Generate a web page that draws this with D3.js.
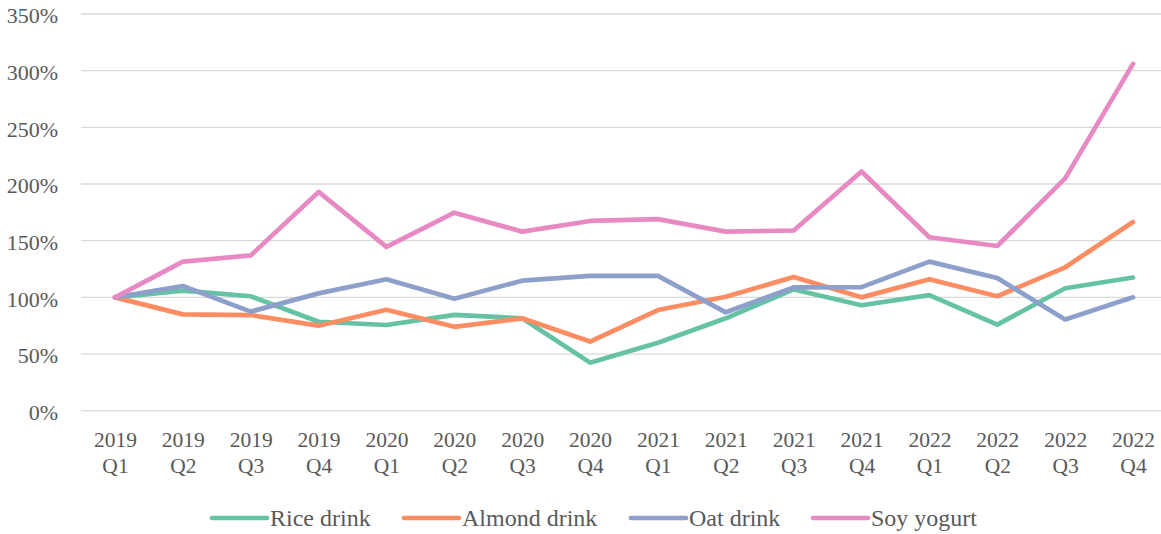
<!DOCTYPE html>
<html>
<head>
<meta charset="utf-8">
<script src="https://cdn.jsdelivr.net/npm/d3@7"></script>
<style>
  html, body { margin: 0; padding: 0; background: #fff; }
  svg { display: block; font-family: "Liberation Serif", "Times New Roman", serif; }
</style>
</head>
<body>
<svg id="chart" width="1161" height="534"></svg>
<script>
// Quarterly index (2019 Q1 = 100%)
const years = ["2019","2019","2019","2019","2020","2020","2020","2020","2021","2021","2021","2021","2022","2022","2022","2022"];
const quarters = ["Q1","Q2","Q3","Q4","Q1","Q2","Q3","Q4","Q1","Q2","Q3","Q4","Q1","Q2","Q3","Q4"];
const seriesNames = ["Rice drink", "Almond drink", "Oat drink", "Soy yogurt"];
const riceDrink   = [100, 106, 101, 78.5, 75.6, 84.5, 81.5, 42.4, 60, 81.5, 107, 93, 102, 76, 108, 117.5];
const almondDrink = [100, 85, 84.4, 75, 89, 74, 81.5, 61, 88.8, 100.5, 118, 100, 116, 101, 126.5, 166.5];
const oatDrink    = [100, 110, 87.4, 103.5, 116, 98.8, 114.7, 119, 119, 86.8, 108.8, 109, 131.5, 117, 80.5, 100];
const soyYogurt   = [100, 131.5, 137, 193, 144.5, 174.7, 158, 167.4, 169, 158, 159, 211, 153, 145.3, 205, 306];
const yTicks = [0, 50, 100, 150, 200, 250, 300, 350];
const colors = ["#66c2a5", "#fc8d62", "#8da0cb", "#e78ac3"];

const allSeries = [riceDrink, almondDrink, oatDrink, soyYogurt];
const labels = years.map((y, i) => y + " " + quarters[i]);

const svg = d3.select("#chart");
const plot = { left: 81, right: 1161, top: 14, bottom: 411 };

const x = d3.scalePoint()
  .domain(labels)
  .range([115, 1133]);

const y = d3.scaleLinear()
  .domain([0, 350])
  .range([plot.bottom - 0.3, plot.top]);

// horizontal gridlines
svg.append("g")
  .selectAll("line")
  .data(yTicks)
  .join("line")
  .attr("x1", plot.left)
  .attr("x2", plot.right)
  .attr("y1", d => y(d))
  .attr("y2", d => y(d))
  .attr("stroke", "#d9d9d9")
  .attr("stroke-width", 1.3);

// y axis labels
const yAxis = svg.append("g")
  .attr("transform", `translate(58,0)`)
  .call(d3.axisLeft(y).tickValues(yTicks).tickFormat(d => d + "%").tickSize(0).tickPadding(0));
yAxis.select(".domain").remove();
yAxis.selectAll("text")
  .attr("font-family", "Liberation Serif, Times New Roman, serif")
  .attr("font-size", 22)
  .attr("dy", "0.4em")
  .attr("fill", "#595959");

// x axis labels, two lines: year then quarter
const xAxis = svg.append("g")
  .attr("transform", `translate(0,${plot.bottom})`)
  .call(d3.axisBottom(x).tickSize(0).tickFormat(""));
xAxis.select(".domain").remove();
xAxis.selectAll(".tick").each(function (d, i) {
  const t = d3.select(this).append("text")
    .attr("fill", "#595959")
    .attr("font-family", "Liberation Serif, Times New Roman, serif")
    .attr("font-size", 21.5)
    .attr("text-anchor", "middle");
  t.append("tspan").attr("x", 0).attr("y", 36).text(years[i]);
  t.append("tspan").attr("x", 0).attr("y", 62).text(quarters[i]);
});

// series lines
const line = d3.line()
  .x((d, i) => x(labels[i]))
  .y(d => y(d));

svg.append("g")
  .selectAll("path")
  .data(allSeries)
  .join("path")
  .attr("d", d => line(d))
  .attr("fill", "none")
  .attr("stroke", (d, i) => colors[i])
  .attr("stroke-width", 4.7)
  .attr("stroke-linejoin", "round")
  .attr("stroke-linecap", "round");

// legend
const legendX = [212, 404, 631, 813];
const legend = svg.append("g").attr("transform", "translate(0,518)");
const items = legend.selectAll("g")
  .data(seriesNames)
  .join("g")
  .attr("transform", (d, i) => `translate(${legendX[i]},0)`);
items.append("line")
  .attr("x1", 0).attr("x2", 55)
  .attr("y1", 0).attr("y2", 0)
  .attr("stroke", (d, i) => colors[i])
  .attr("stroke-width", 4.7)
  .attr("stroke-linecap", "round");
items.append("text")
  .attr("x", 58)
  .attr("y", 8)
  .attr("font-size", 24)
  .attr("fill", "#595959")
  .text(d => d);
</script>
</body>
</html>
